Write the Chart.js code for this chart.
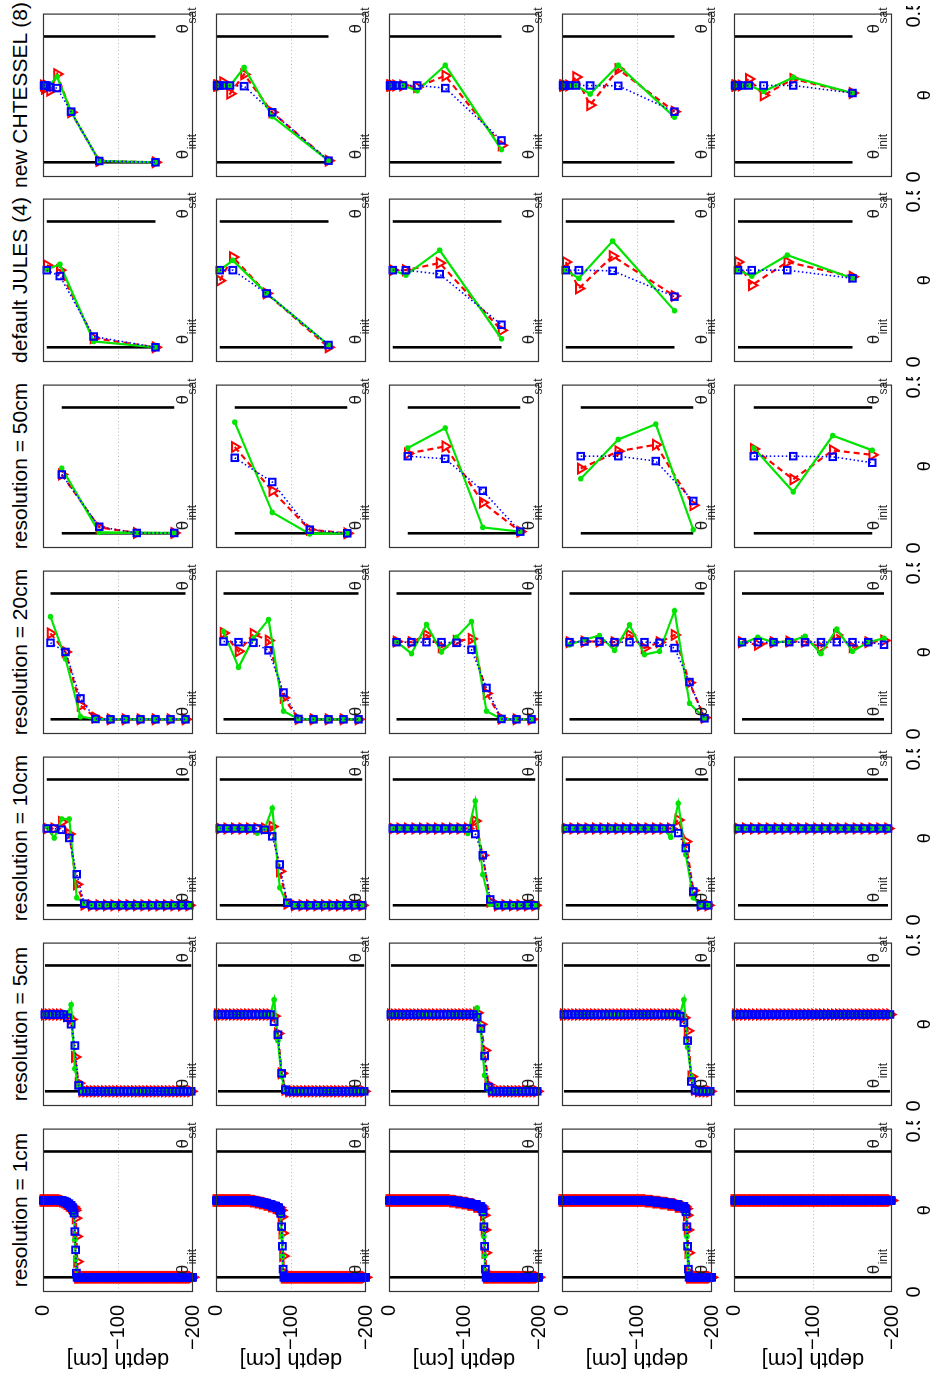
<!DOCTYPE html>
<html><head><meta charset="utf-8">
<script src="https://cdn.jsdelivr.net/npm/chart.js@4.4.1/dist/chart.umd.min.js"></script>
<style>
html,body{margin:0;padding:0;background:#fff;overflow:hidden;width:932px;height:1377px;}
#fig{position:absolute;left:0;top:0;width:1377px;height:932px;transform-origin:0 0;transform:translate(0px,1377px) rotate(-90deg);font-family:'Liberation Sans',Arial,sans-serif;}
.ttl{position:absolute;top:9px;height:22px;width:320px;font-size:21px;line-height:22px;white-space:nowrap;text-align:center;color:#000;}
.cw{position:absolute;}
</style></head><body><div id="fig"></div>
<script>
// ---------------- data ----------------
const columnTitles = ['resolution = 1cm','resolution = 5cm','resolution = 10cm','resolution = 20cm','resolution = 50cm','default JULES (4)','new CHTESSEL (8)'];
const thetaLines = [0.045, 0.43];          // θ_init, θ_sat
const thetaLineNames = ['init', 'sat'];
const xTickValues = [0, 0.5];
const xTickLabels = ['0', '0.5'];
const yTickValues = [0, -100, -200];
const yTickLabels = ['0', '\u2212100', '\u2212200'];
const gridDepth = [-100];
const xAxisTitle = '\u03b8';
const yAxisTitle = 'depth [cm]';

const depth1cm = [
-0.5,-1.5,-2.5,-3.5,-4.5,-5.5,-6.5,-7.5,-8.5,-9.5,-10.5,-11.5,-12.5,-13.5,-14.5,-15.5,-16.5,-17.5,-18.5,-19.5,
-20.5,-21.5,-22.5,-23.5,-24.5,-25.5,-26.5,-27.5,-28.5,-29.5,-30.5,-31.5,-32.5,-33.5,-34.5,-35.5,-36.5,-37.5,-38.5,-39.5,
-40.5,-41.5,-42.5,-43.5,-44.5,-45.5,-46.5,-47.5,-48.5,-49.5,-50.5,-51.5,-52.5,-53.5,-54.5,-55.5,-56.5,-57.5,-58.5,-59.5,
-60.5,-61.5,-62.5,-63.5,-64.5,-65.5,-66.5,-67.5,-68.5,-69.5,-70.5,-71.5,-72.5,-73.5,-74.5,-75.5,-76.5,-77.5,-78.5,-79.5,
-80.5,-81.5,-82.5,-83.5,-84.5,-85.5,-86.5,-87.5,-88.5,-89.5,-90.5,-91.5,-92.5,-93.5,-94.5,-95.5,-96.5,-97.5,-98.5,-99.5,
-100.5,-101.5,-102.5,-103.5,-104.5,-105.5,-106.5,-107.5,-108.5,-109.5,-110.5,-111.5,-112.5,-113.5,-114.5,-115.5,-116.5,-117.5,-118.5,-119.5,
-120.5,-121.5,-122.5,-123.5,-124.5,-125.5,-126.5,-127.5,-128.5,-129.5,-130.5,-131.5,-132.5,-133.5,-134.5,-135.5,-136.5,-137.5,-138.5,-139.5,
-140.5,-141.5,-142.5,-143.5,-144.5,-145.5,-146.5,-147.5,-148.5,-149.5,-150.5,-151.5,-152.5,-153.5,-154.5,-155.5,-156.5,-157.5,-158.5,-159.5,
-160.5,-161.5,-162.5,-163.5,-164.5,-165.5,-166.5,-167.5,-168.5,-169.5,-170.5,-171.5,-172.5,-173.5,-174.5,-175.5,-176.5,-177.5,-178.5,-179.5,
-180.5,-181.5,-182.5,-183.5,-184.5,-185.5,-186.5,-187.5,-188.5,-189.5,-190.5,-191.5,-192.5,-193.5,-194.5,-195.5,-196.5,-197.5,-198.5,-199.5];
const depth5cm = [-2.5,-7.5,-12.5,-17.5,-22.5,-27.5,-32.5,-37.5,-42.5,-47.5,-52.5,-57.5,-62.5,-67.5,-72.5,-77.5,-82.5,-87.5,-92.5,-97.5,
-102.5,-107.5,-112.5,-117.5,-122.5,-127.5,-132.5,-137.5,-142.5,-147.5,-152.5,-157.5,-162.5,-167.5,-172.5,-177.5,-182.5,-187.5,-192.5,-197.5];
const depth10cm = [-5,-15,-25,-35,-45,-55,-65,-75,-85,-95,-105,-115,-125,-135,-145,-155,-165,-175,-185,-195];
const depth20cm = [-10,-30,-50,-70,-90,-110,-130,-150,-170,-190];
const depth50cm = [-25,-75,-125,-175];
const depthJULES = [-5,-22.5,-67.5,-150];
const depthCHTESSEL = [-1.2,-2.3,-4.7,-9.4,-18.8,-37.5,-75,-150];

// run-length lists [value, count] (one list per time row)
const theta1cmBlue = [
 [[0.28,26],[0.278,3],[0.275,3],[0.27,3],[0.265,3],[0.258,2],[0.25,1],[0.241,1],[0.185,1],[0.129,1],[0.058,1],[0.045,155]],
 [[0.28,50],[0.278,6],[0.275,6],[0.272,6],[0.268,6],[0.263,6],[0.258,4],[0.25,2],[0.24,1],[0.2,1],[0.14,1],[0.07,1],[0.045,110]],
 [[0.28,85],[0.278,8],[0.275,8],[0.272,8],[0.268,8],[0.262,6],[0.255,2],[0.245,1],[0.2,1],[0.14,1],[0.07,1],[0.045,71]],
 [[0.28,115],[0.278,10],[0.275,10],[0.272,10],[0.268,10],[0.262,8],[0.255,2],[0.245,1],[0.2,1],[0.14,1],[0.07,1],[0.045,31]],
 [[0.28,200]]];
const theta1cmGreen = [
 [[0.28,26],[0.278,3],[0.275,3],[0.27,3],[0.265,3],[0.258,2],[0.25,1],[0.235,1],[0.16,1],[0.1,1],[0.05,1],[0.045,155]],
 [[0.28,50],[0.278,6],[0.275,6],[0.272,6],[0.268,6],[0.263,6],[0.258,4],[0.25,2],[0.235,1],[0.17,1],[0.11,1],[0.055,1],[0.045,110]],
 [[0.28,85],[0.278,8],[0.275,8],[0.272,8],[0.268,8],[0.262,6],[0.255,2],[0.24,1],[0.17,1],[0.11,1],[0.055,1],[0.045,71]],
 [[0.28,115],[0.278,10],[0.275,10],[0.272,10],[0.268,10],[0.262,8],[0.255,2],[0.24,1],[0.17,1],[0.11,1],[0.055,1],[0.045,31]],
 [[0.28,200]]];
const theta1cmRed = [
 [[0.28,26],[0.278,3],[0.275,3],[0.27,3],[0.265,3],[0.26,3],[0.255,1],[0.25,1],[0.226,1],[0.17,1],[0.093,1],[0.045,154]],
 [[0.28,50],[0.278,6],[0.275,6],[0.272,6],[0.268,6],[0.263,6],[0.258,5],[0.25,2],[0.23,1],[0.18,1],[0.11,1],[0.06,1],[0.045,109]],
 [[0.28,85],[0.278,8],[0.275,8],[0.272,8],[0.268,8],[0.262,7],[0.255,2],[0.235,1],[0.19,1],[0.12,1],[0.06,1],[0.045,70]],
 [[0.28,115],[0.278,10],[0.275,10],[0.272,10],[0.268,10],[0.262,9],[0.255,2],[0.235,1],[0.19,1],[0.12,1],[0.06,1],[0.045,30]],
 [[0.28,200]]];

const theta5cmBlue = [
 [[0.28,6],[0.27,1],[0.25,1],[0.185,1],[0.063,1],[0.045,30]],
 [[0.28,15],[0.258,1],[0.218,1],[0.10,1],[0.05,1],[0.045,21]],
 [[0.28,23],[0.272,1],[0.237,1],[0.153,1],[0.058,1],[0.045,13]],
 [[0.28,31],[0.275,1],[0.255,1],[0.20,1],[0.075,1],[0.048,1],[0.045,4]],
 [[0.28,40]]];
const theta5cmGreen = [
 [[0.28,7],[0.31,1],[0.114,1],[0.06,1],[0.045,30]],
 [[0.28,15],[0.325,1],[0.20,1],[0.09,1],[0.048,1],[0.045,21]],
 [[0.28,23],[0.30,1],[0.23,1],[0.094,1],[0.05,1],[0.045,13]],
 [[0.28,32],[0.325,1],[0.18,1],[0.09,1],[0.05,1],[0.045,4]],
 [[0.28,40]]];
const theta5cmRed = [
 [[0.28,6],[0.275,1],[0.265,1],[0.15,1],[0.07,1],[0.045,30]],
 [[0.28,15],[0.275,1],[0.222,1],[0.10,1],[0.05,1],[0.045,21]],
 [[0.28,23],[0.285,1],[0.25,1],[0.17,1],[0.065,1],[0.045,13]],
 [[0.28,32],[0.27,1],[0.23,1],[0.09,1],[0.05,1],[0.045,4]],
 [[0.28,40]]];

const theta10cmBlue = [
 [[0.28,2],[0.276,1],[0.251,1],[0.14,1],[0.05,1],[0.045,14]],
 [[0.28,6],[0.276,1],[0.256,1],[0.17,1],[0.053,1],[0.045,10]],
 [[0.28,11],[0.263,1],[0.198,1],[0.063,1],[0.045,6]],
 [[0.28,15],[0.266,1],[0.22,1],[0.087,1],[0.045,2]],
 [[0.28,20]]];
const theta10cmGreen = [
 [[0.285,1],[0.251,1],[0.309,2],[0.068,1],[0.05,1],[0.045,14]],
 [[0.28,5],[0.266,1],[0.28,1],[0.342,1],[0.099,1],[0.048,1],[0.045,10]],
 [[0.28,10],[0.265,1],[0.364,1],[0.139,1],[0.048,1],[0.045,6]],
 [[0.28,14],[0.253,1],[0.357,1],[0.20,1],[0.068,1],[0.045,2]],
 [[0.28,20]]];
const theta10cmRed = [
 [[0.28,2],[0.30,1],[0.263,1],[0.109,1],[0.047,1],[0.045,14]],
 [[0.28,7],[0.286,1],[0.149,1],[0.05,1],[0.045,10]],
 [[0.28,11],[0.303,1],[0.198,1],[0.056,1],[0.045,6]],
 [[0.28,15],[0.306,1],[0.24,1],[0.09,1],[0.045,2]],
 [[0.28,20]]];

const theta20cmBlue = [
 [0.279,0.251,0.109,0.046,0.045,0.045,0.045,0.045,0.045,0.045],
 [0.283,0.281,0.279,0.256,0.127,0.046,0.045,0.045,0.045,0.045],
 [0.281,0.281,0.281,0.281,0.279,0.258,0.141,0.046,0.045,0.045],
 [0.281,0.283,0.283,0.281,0.281,0.281,0.279,0.263,0.159,0.048],
 [0.281,0.281,0.281,0.281,0.281,0.281,0.281,0.281,0.281,0.273]];
const theta20cmGreen = [
 [0.359,0.230,0.053,0.046,0.045,0.045,0.045,0.045,0.045,0.045],
 [0.314,0.204,0.293,0.350,0.070,0.046,0.045,0.045,0.045,0.045],
 [0.283,0.246,0.335,0.251,0.296,0.344,0.070,0.046,0.045,0.045],
 [0.273,0.289,0.301,0.256,0.334,0.243,0.253,0.377,0.094,0.048],
 [0.276,0.296,0.281,0.283,0.299,0.246,0.321,0.253,0.281,0.293]];
const theta20cmRed = [
 [0.308,0.251,0.087,0.050,0.045,0.045,0.045,0.045,0.045,0.045],
 [0.309,0.253,0.306,0.286,0.111,0.046,0.045,0.045,0.045,0.045],
 [0.283,0.281,0.303,0.266,0.285,0.291,0.124,0.047,0.045,0.045],
 [0.281,0.283,0.283,0.281,0.303,0.263,0.281,0.303,0.157,0.050],
 [0.281,0.273,0.281,0.283,0.283,0.266,0.303,0.266,0.281,0.286]];

const theta50cmBlue = [[0.225,0.065,0.046,0.046],[0.276,0.202,0.056,0.045],[0.281,0.273,0.175,0.050],[0.281,0.281,0.266,0.144],[0.281,0.281,0.279,0.261]];
const theta50cmGreen = [[0.244,0.048,0.046,0.046],[0.385,0.109,0.043,0.045],[0.306,0.367,0.063,0.050],[0.212,0.332,0.379,0.056],[0.306,0.172,0.344,0.299]];
const theta50cmRed = [[0.225,0.063,0.046,0.046],[0.309,0.175,0.056,0.045],[0.289,0.311,0.139,0.050],[0.243,0.296,0.316,0.131],[0.303,0.210,0.299,0.285]];

const thetaJULESBlue = [[0.281,0.263,0.078,0.045],[0.281,0.281,0.210,0.052],[0.281,0.281,0.269,0.114],[0.281,0.281,0.279,0.200],[0.281,0.281,0.281,0.256]];
const thetaJULESGreen = [[0.283,0.299,0.063,0.045],[0.281,0.311,0.210,0.052],[0.281,0.266,0.342,0.071],[0.281,0.256,0.370,0.157],[0.281,0.263,0.327,0.256]];
const thetaJULESRed = [[0.296,0.281,0.073,0.045],[0.249,0.321,0.210,0.045],[0.281,0.281,0.303,0.097],[0.306,0.225,0.324,0.202],[0.306,0.235,0.306,0.261]];

const thetaCHTESSELBlue = [
 [0.28,0.28,0.28,0.275,0.272,0.200,0.049,0.045],
 [0.28,0.28,0.28,0.28,0.28,0.278,0.198,0.050],
 [0.28,0.28,0.28,0.28,0.28,0.28,0.272,0.112],
 [0.28,0.28,0.28,0.28,0.28,0.28,0.279,0.200],
 [0.28,0.28,0.28,0.28,0.28,0.28,0.28,0.257]];
const thetaCHTESSELGreen = [
 [0.28,0.28,0.28,0.283,0.307,0.198,0.049,0.045],
 [0.28,0.28,0.28,0.28,0.279,0.335,0.185,0.050],
 [0.28,0.28,0.28,0.28,0.28,0.264,0.342,0.084],
 [0.28,0.28,0.28,0.28,0.28,0.254,0.342,0.183],
 [0.28,0.28,0.28,0.28,0.28,0.262,0.305,0.257]];
const thetaCHTESSELRed = [
 [0.28,0.27,0.28,0.264,0.315,0.198,0.049,0.045],
 [0.28,0.28,0.28,0.29,0.255,0.314,0.198,0.050],
 [0.28,0.28,0.28,0.28,0.28,0.275,0.310,0.097],
 [0.28,0.28,0.28,0.28,0.306,0.220,0.330,0.200],
 [0.28,0.28,0.28,0.28,0.300,0.250,0.300,0.257]];

// ---------------- build ----------------
function expandRuns(runs){ const out=[]; runs.forEach(([v,n])=>{ for(let i=0;i<n;i++) out.push(v); }); return out; }

const columnData = [
 {depth:depth1cm, blue:theta1cmBlue, green:theta1cmGreen, red:theta1cmRed, runs:true},
 {depth:depth5cm, blue:theta5cmBlue, green:theta5cmGreen, red:theta5cmRed, runs:true},
 {depth:depth10cm, blue:theta10cmBlue, green:theta10cmGreen, red:theta10cmRed, runs:true},
 {depth:depth20cm, blue:theta20cmBlue, green:theta20cmGreen, red:theta20cmRed, runs:false},
 {depth:depth50cm, blue:theta50cmBlue, green:theta50cmGreen, red:theta50cmRed, runs:false},
 {depth:depthJULES, blue:thetaJULESBlue, green:thetaJULESGreen, red:thetaJULESRed, runs:false},
 {depth:depthCHTESSEL, blue:thetaCHTESSELBlue, green:thetaCHTESSELGreen, red:thetaCHTESSELRed, runs:false}
];

const seriesStyle = {
 blue:{borderColor:'#0000ff', borderWidth:1.6, borderDash:[1.5,2.5], pointStyle:'rect', pointRadius:4.6, pointBorderWidth:2, pointBackgroundColor:'rgba(0,0,0,0)', pointBorderColor:'#0000ff'},
 green:{borderColor:'#00e400', borderWidth:2.2, borderDash:[], pointStyle:'circle', pointRadius:2.8, pointBorderWidth:0, pointBackgroundColor:'#00e400', pointBorderColor:'#00e400'},
 red:{borderColor:'#ff0000', borderWidth:2.2, borderDash:[6,4], pointStyle:'triangle', pointRotation:180, pointRadius:5.6, pointBorderWidth:2, pointBackgroundColor:'rgba(0,0,0,0)', pointBorderColor:'#ff0000'}
};

Chart.defaults.font.family = "'Liberation Sans', Arial, sans-serif";
Chart.defaults.color = '#000';

const FONT = "'Liberation Sans', Arial, sans-serif";
const panelDeco = {
 id:'panelDeco',
 beforeDatasetsDraw(chart){
  const {ctx, chartArea:a, scales:{y}} = chart;
  ctx.save();
  ctx.strokeStyle='#b8b8b8'; ctx.lineWidth=1; ctx.setLineDash([1,2.5]);
  gridDepth.forEach(d=>{ const gy=Math.round(y.getPixelForValue(d))+0.5; ctx.beginPath(); ctx.moveTo(a.left,gy); ctx.lineTo(a.right,gy); ctx.stroke(); });
  ctx.restore();
 },
 afterDatasetsDraw(chart){
  const {ctx, chartArea:a, scales:{x}} = chart;
  ctx.save();
  ctx.setLineDash([]); ctx.strokeStyle='#333'; ctx.lineWidth=1.2;
  ctx.strokeRect(a.left+0.5, a.top+0.5, a.right-a.left-1, a.bottom-a.top-1);
  ctx.fillStyle='#1e1e1e'; ctx.textAlign='left'; ctx.textBaseline='alphabetic';
  thetaLines.forEach((t,i)=>{
   const px = x.getPixelForValue(t) + 3;
   ctx.font = '17px ' + FONT;
   ctx.fillText('\u03b8', px, a.top + 145);
   const w = ctx.measureText('\u03b8').width;
   ctx.font = '12px ' + FONT;
   ctx.fillText(thetaLineNames[i], px + w + 0.5, a.top + 153);
  });
  ctx.restore();
 }
};

const fig = document.getElementById('fig');
const PW = 164, PH = 158;

columnTitles.forEach((t,c)=>{
 const d = document.createElement('div');
 d.className='ttl';
 d.textContent = t;
 d.style.left = (Math.round(85 + 185.9*c) + PW/2 - 160) + 'px';
 fig.appendChild(d);
});

for (let c=0;c<7;c++){
 for (let r=0;r<5;r++){
  const col = columnData[c];
  const depth = col.depth;
  const get = k => col.runs ? expandRuns(col[k][r]) : col[k][r];
  const cl = Math.round(85 + 185.9*c), ct = Math.round(43.3 + 172.75*r);
  const padL = c===0 ? cl : 12, padT = 8, padR = 7, padB = r===4 ? 55 : 8;
  const W = padL + PW + padR, H = padT + PH + padB;
  const wrap = document.createElement('div');
  wrap.className='cw';
  wrap.style.left=(cl-padL)+'px'; wrap.style.top=(ct-padT)+'px'; wrap.style.width=W+'px'; wrap.style.height=H+'px';
  const cv = document.createElement('canvas');
  cv.width=W; cv.height=H; cv.style.width=W+'px'; cv.style.height=H+'px';
  wrap.appendChild(cv); fig.appendChild(wrap);

  const datasets = ['blue','green','red'].map(k=>{
   const vals = get(k);
   return Object.assign({label:k, data: vals.map((v,i)=>({x:v, y:depth[i]})), showLine:true, tension:0, clip:false}, seriesStyle[k]);
  });
  thetaLines.forEach(t=>{
   datasets.push({label:'line', data:[{x:t,y:depth[0]},{x:t,y:depth[depth.length-1]}], showLine:true, borderColor:'#000', borderWidth:2.6, pointRadius:0, clip:false});
  });

  new Chart(cv, {
   type:'scatter',
   data:{datasets},
   plugins:[panelDeco],
   options:{
    responsive:false, devicePixelRatio:1, animation:false, events:[],
    layout:{padding:{left: c===0?0:padL, right:padR, top:padT, bottom: r===4?0:padB}},
    plugins:{legend:{display:false}, tooltip:{enabled:false}, title:{display:false}},
    scales:{
     x:{type:'linear', min:0, max:0.5, display: r===4,
        grid:{display:false}, border:{display:false},
        afterBuildTicks: s=>{ s.ticks = xTickValues.map(v=>({value:v})); },
        ticks:{color:'#000', font:{size:20}, padding:2, maxRotation:0, autoSkip:false, callback:(v,i)=>xTickLabels[i]},
        title:{display:true, text:xAxisTitle, color:'#000', font:{size:18}, padding:{top:0,bottom:11}},
        afterFit: s=>{ s.height = padB; s.paddingLeft = 0; s.paddingRight = 0; }
     },
     y:{type:'linear', min:-200, max:0, display: c===0,
        grid:{display:false}, border:{display:false},
        afterBuildTicks: s=>{ s.ticks = yTickValues.map(v=>({value:v})); },
        ticks:{color:'#000', font:{size:20}, padding:5, autoSkip:false, callback:(v,i)=>yTickLabels[i]},
        title:{display:true, text:yAxisTitle, color:'#000', font:{size:22}, padding:{top:5,bottom:0}},
        afterFit: s=>{ if (c===0) { s.width = padL; } s.paddingTop = 0; s.paddingBottom = 0; }
     }
    }
   }
  });
 }
}
</script></body></html>
